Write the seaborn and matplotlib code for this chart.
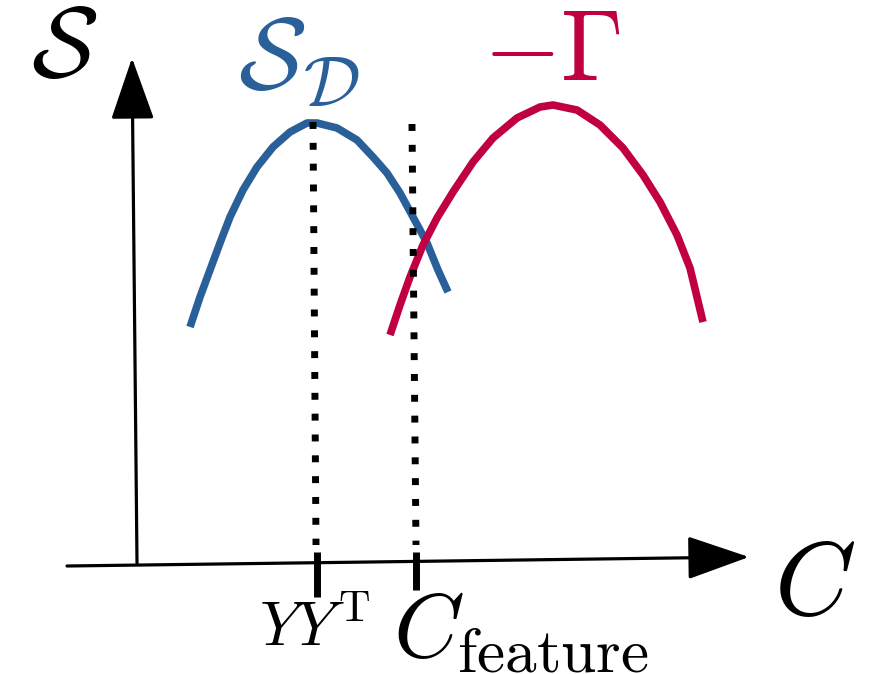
import matplotlib
matplotlib.use("Agg")
import matplotlib.pyplot as plt
import seaborn as sns
import pandas as pd
from matplotlib.patches import FancyArrowPatch

sns.set_theme(style="white")
plt.rcParams["mathtext.fontset"] = "cm"
plt.rcParams["font.family"] = ["DejaVu Serif", "DejaVu Sans"]

# Schematic drawn in a canvas-pixel coordinate frame (x to the right, y downward)
BLUE = "#2A6099"
RED = "#C00042"

# Sampled points along the S_D curve
sd_x = [190, 200, 210, 220, 230, 243, 257, 273, 290, 307, 317,
        337, 357, 373, 387, 400, 413, 427, 438, 448]
sd_y = [327, 297, 270, 243, 217, 190, 167, 147, 132, 123, 123,
        128, 140, 157, 173, 193, 217, 243, 270, 292]

# Sampled points along the -Gamma curve
g_x = [390, 400, 410, 423, 437, 453, 473, 493, 517, 540, 553,
       577, 600, 623, 643, 660, 677, 690, 703]
g_y = [335, 305, 277, 245, 218, 192, 162, 138, 118, 107, 105,
       110, 125, 148, 175, 202, 235, 268, 322]

# Axis arrows (tail -> head)
y_axis = [(137, 563), (132, 58)]
x_axis = [(67, 566), (749, 557)]

# Dotted guide lines (top -> bottom) and tick marks on the C axis
guides_x = [[313, 316], [412, 416]]
guides_y = [[122, 545], [124, 545]]
ticks_x = [317, 416]
ticks_top = [552, 552]
ticks_bottom = [597, 590]

fig = plt.figure(figsize=(8.71, 6.74), dpi=100)
ax = fig.add_axes([0, 0, 1, 1])
ax.set_xlim(0, 871)
ax.set_ylim(674, 0)
ax.axis("off")

curves = pd.concat([
    pd.DataFrame({"C": sd_x, "S": sd_y, "curve": "SD"}),
    pd.DataFrame({"C": g_x, "S": g_y, "curve": "Gamma"}),
])
sns.lineplot(data=curves, x="C", y="S", hue="curve", palette={"SD": BLUE, "Gamma": RED},
             sort=False, estimator=None, lw=5.5, legend=False, ax=ax,
             solid_capstyle="butt", solid_joinstyle="round")

for gx, gy in zip(guides_x, guides_y):
    ax.plot(gx, gy, color="black", lw=5, linestyle=(0, (1, 2)), dash_capstyle="butt")

for tx, t0, t1 in zip(ticks_x, ticks_top, ticks_bottom):
    ax.plot([tx, tx], [t0, t1], color="black", lw=5, solid_capstyle="butt")

for (x0, y0), (x1, y1) in (y_axis, x_axis):
    ax.add_patch(FancyArrowPatch((x0, y0), (x1, y1),
                                 arrowstyle="-|>,head_length=3.0,head_width=1.05",
                                 mutation_scale=13, lw=2.3, color="black",
                                 shrinkA=0, shrinkB=0))

ax.text(64, 50, r"$\mathcal{S}$", fontsize=72, ha="center", va="center", color="black")
ax.text(299, 62, r"$\mathcal{S}_{\mathcal{D}}$", fontsize=73, ha="center", va="center", color=BLUE)
ax.text(552, 52, r"$-\Gamma$", fontsize=72, ha="center", va="center", color=RED)
ax.text(815, 586, r"$C$", fontsize=75, ha="center", va="center", color="black")
ax.text(315, 628, r"$YY^{\mathrm{T}}$", fontsize=45, ha="center", va="center", color="black")
ax.text(521, 632, r"$C_{\mathrm{feature}}$", fontsize=65, ha="center", va="center", color="black")

fig.savefig("out.png", dpi=100, facecolor="white")
